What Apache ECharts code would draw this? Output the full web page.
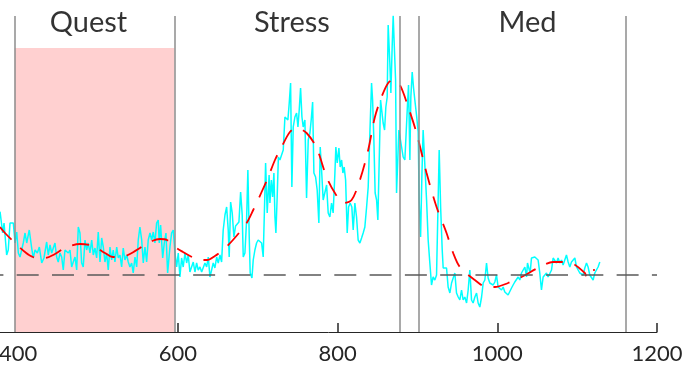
<!DOCTYPE html>
<html>
<head>
<meta charset="utf-8">
<script src="https://cdn.jsdelivr.net/npm/echarts@6/dist/echarts.min.js"></script>
<style>
html,body{margin:0;padding:0;background:#fff;}
#chart{width:687px;height:372px;}
</style>
</head>
<body>
<div id="chart"></div>
<script>
// ---- data ----
var signalX = [377.2,380.5,382.2,385.5,387.5,389.7,391.8,393.8,396.0,398.1,400.1,402.2,404.3,406.3,408.5,410.6,413.8,416.8,418.8,421.0,423.9,426.4,429.4,432.2,435.6,437.6,439.8,441.9,443.9,446.0,448.1,450.1,452.3,454.4,456.4,458.5,460.7,462.7,464.8,466.9,468.9,471.1,473.2,475.2,477.3,479.4,481.4,483.6,485.7,487.7,489.8,492.0,494.0,496.1,498.2,500.2,502.4,504.5,506.5,508.6,510.7,512.7,514.9,517.0,519.0,521.1,523.3,525.3,527.4,529.5,531.5,533.6,535.8,537.8,539.9,542.0,544.0,546.2,548.3,550.3,552.4,554.6,556.6,558.7,560.8,562.8,565.0,567.1,569.1,571.2,573.3,575.3,576.6,578.3,580.9,582.9,585.0,587.1,590.0,592.1,594.1,596.3,598.4,600.4,602.5,604.6,606.6,608.8,610.9,612.9,615.0,617.2,619.2,621.3,623.4,625.4,627.6,629.7,631.7,633.8,636.0,638.0,640.1,642.2,644.2,646.3,648.5,650.5,652.6,654.7,656.7,658.9,661.0,663.0,664.2,666.0,668.0,670.1,672.2,674.2,676.4,678.5,680.5,681.8,683.9,686.0,687.6,689.3,690.5,692.7,694.3,696.4,698.5,700.5,702.7,704.8,706.8,708.9,709.8,711.8,714.2,715.2,717.0,718.6,720.2,721.5,722.7,724.3,725.8,727.7,729.8,731.9,734.0,736.1,737.7,739.4,741.1,742.7,744.4,746.5,748.6,750.3,751.9,753.6,755.3,756.9,759.0,761.1,763.2,765.3,766.9,768.7,770.3,772.4,774.4,776.5,778.2,779.9,781.9,784.1,786.2,788.2,790.3,792.4,794.4,796.6,797.8,799.5,801.6,803.2,805.0,806.6,808.2,810.0,812.0,813.7,815.7,817.8,819.5,821.6,823.7,825.7,827.9,830.0,832.0,834.1,836.3,838.3,840.4,842.5,843.8,845.4,847.0,848.8,850.4,852.0,853.8,855.4,857.0,858.8,860.4,862.1,863.3,865.4,866.7,868.3,869.6,871.3,872.6,873.8,875.5,876.7,878.3,880.1,882.1,884.2,886.3,887.6,888.8,890.5,891.7,893.4,895.1,896.7,898.8,900.9,902.1,903.9,905.5,907.1,909.2,911.4,913.4,915.5,917.6,919.6,921.8,923.9,925.9,927.2,929.0,931.0,932.2,934.3,936.4,938.4,940.6,942.7,944.7,946.8,948.9,951.0,953.1,955.2,957.2,959.3,961.5,963.5,965.6,967.7,969.7,971.9,974.0,976.0,978.1,980.3,982.3,984.4,986.5,988.5,990.6,992.8,994.8,996.9,999.0,1001.0,1003.2,1005.3,1007.3,1009.4,1011.5,1013.5,1015.7,1017.8,1019.8,1021.9,1024.1,1026.1,1028.2,1030.3,1032.3,1034.5,1036.6,1037.8,1039.5,1041.1,1042.8,1044.9,1047.0,1049.1,1051.1,1053.2,1055.3,1057.4,1059.5,1061.6,1063.6,1065.7,1067.9,1069.9,1072.0,1074.1,1076.1,1078.3,1080.4,1082.4,1084.5,1086.6,1088.7,1090.8,1092.9,1094.9,1097.1,1099.2,1101.2,1103.3,1105.4,1107.5,1109.6,1111.7,1113.7,1115.8,1118.0,1120.0,1122.1,1124.2,1126.2,1128.4];
var signalY = [6.30,4.17,5.17,1.97,2.47,5.17,5.27,5.17,3.17,4.27,2.17,1.77,1.67,3.17,4.17,3.17,4.47,2.67,1.67,2.47,2.17,2.77,1.17,1.67,3.27,1.97,2.97,2.17,2.67,3.17,1.77,1.27,2.17,1.77,0.47,2.47,2.67,2.17,2.47,0.77,1.27,1.77,0.47,4.77,4.17,1.17,0.77,3.47,2.47,3.17,2.17,3.47,1.97,2.67,1.67,4.27,1.27,3.67,2.77,1.27,2.17,0.47,2.77,1.47,2.47,1.27,2.77,1.67,1.97,0.77,2.67,1.47,1.97,1.27,0.77,1.17,0.17,1.77,0.77,3.47,4.77,3.47,1.17,2.77,1.27,3.47,4.17,3.47,4.27,3.17,5.17,5.47,3.17,4.97,1.67,3.17,4.17,0.17,2.77,4.17,4.47,2.17,0.77,2.17,-0.23,1.67,0.77,2.17,1.17,1.97,0.27,0.47,1.27,0.27,1.17,0.47,0.77,0.27,0.17,1.17,0.77,1.77,-0.23,0.47,1.17,0.67,1.77,1.17,1.97,1.27,4.47,5.97,6.77,4.47,1.77,7.27,6.17,3.77,4.87,4.67,5.27,8.27,5.97,1.77,2.17,5.47,10.47,3.77,0.17,-0.33,1.47,2.47,3.17,3.47,3.27,3.17,1.77,8.17,11.17,6.17,9.97,7.17,9.47,7.77,10.17,5.77,4.17,7.77,11.77,11.47,11.97,12.47,15.77,15.97,15.47,17.17,19.17,8.77,14.77,15.77,16.17,14.77,16.47,18.67,15.77,14.77,15.47,7.67,13.47,14.17,15.47,17.27,10.17,9.77,8.47,5.17,12.77,10.47,7.47,7.27,8.97,6.17,5.77,7.17,6.17,10.17,12.77,11.17,12.67,10.77,11.47,10.17,10.77,9.47,4.17,6.77,7.17,6.77,4.47,7.17,5.77,3.47,3.17,3.67,4.17,4.77,6.77,8.77,14.17,19.17,17.47,13.47,8.17,7.47,5.47,5.47,17.47,17.27,15.17,14.47,16.77,17.77,24.97,21.17,18.17,22.77,25.9,22.17,19.47,8.17,8.17,14.47,14.27,12.77,11.77,11.47,11.27,17.17,18.97,11.47,17.77,20.27,18.67,17.47,15.97,14.27,7.47,3.77,9.77,14.47,14.67,7.47,3.47,1.17,-1.03,-0.23,-0.53,-0.03,7.47,12.47,6.77,2.47,0.67,0.47,0.67,-1.23,-1.83,-0.83,-1.03,0.17,-1.83,-2.23,-2.53,-1.53,-2.53,-2.23,-2.83,-1.53,0.47,-2.53,-2.83,-2.23,-1.83,-2.83,-3.23,-2.23,-0.83,-0.53,1.17,-0.33,-0.83,-0.83,-1.03,-0.73,-0.03,-1.23,-1.33,-1.53,-1.23,-1.73,-1.73,-2.03,-1.83,-1.33,-1.03,-0.73,-0.83,-0.23,-0.53,0.17,-0.03,0.77,-0.23,1.17,1.27,0.17,1.67,1.47,1.77,1.97,1.47,0.17,-1.53,-0.23,-0.33,0.17,-0.23,-0.03,0.47,1.67,1.77,1.17,1.67,1.17,1.47,0.97,1.47,1.97,1.27,0.77,1.27,1.17,1.67,0.77,0.67,0.17,0.27,-0.03,0.67,1.17,0.77,-0.03,0.17,-0.53,0.17,0.27,0.77,1.27];

var fitX = [377.2,383.4,396.0,408.5,418.5,433.5,446.0,458.5,477.3,489.8,498.6,508.6,518.6,529.9,539.9,556.2,567.5,577.5,586.2,596.3,606.3,617.5,627.6,636.3,646.3,656.4,668.9,686.0,694.3,704.8,713.1,721.5,729.8,740.2,748.6,761.1,773.7,786.2,796.6,807.0,817.5,827.9,838.3,846.7,855.0,863.3,869.6,878.0,888.4,898.8,911.4,923.9,936.4,944.7,953.1,971.9,986.5,996.9,1013.5,1030.3,1053.2,1069.9,1080.4,1092.9,1109.6,1111.7,1115.8,1122.1];
var fitY = [4.77,4.17,3.17,2.27,1.77,1.67,2.07,2.67,3.07,2.97,2.67,2.17,1.77,1.77,2.07,2.87,3.37,3.57,3.47,2.77,2.27,1.77,1.47,1.47,1.87,2.47,3.47,5.17,6.47,8.27,9.77,11.47,12.77,14.27,14.67,14.17,12.67,9.77,8.17,7.17,7.47,9.47,12.47,15.77,17.77,19.17,19.47,18.97,16.77,14.17,10.17,6.77,4.17,2.17,0.77,-0.53,-1.23,-1.23,-0.83,-0.23,0.77,1.27,1.27,1.17,0.17,-0.23,0.47,0.47];

var phaseNames = ['Quest','Stress','Med'];
var phaseLabelX = [488, 742.7, 1037.8];
var phaseLabelY = 25.2;
var eventLines = [395.6, 595.6, 878, 902, 1160.5];
var questStart = 395.6, questEnd = 595.6, questTop = 22.67;
var baselineY = 0;
var xTicks = [400, 600, 800, 1000, 1200];
var xMin = 377.15, xMax = 1200;
var yMin = -5.73, yMax = 25.87;

// ---- build ----
function zip(xs, ys){ var out=[]; for(var i=0;i<xs.length;i++) out.push([xs[i], ys[i]]); return out; }

var chart = echarts.init(document.getElementById('chart'), null, {renderer:'canvas'});
var option = {
  animation: false,
  backgroundColor: '#ffffff',
  grid: { left: 0, right: 30, top: 16, bottom: 40, containLabel: false, outerBoundsMode: 'none' },
  xAxis: {
    type: 'value', min: xMin, max: xMax,
    axisLine: { show: true, onZero: false, lineStyle: { color: '#262626', width: 1 } },
    axisTick: { show: true, inside: true, length: 9, customValues: xTicks, lineStyle: { color: '#262626', width: 1.5 } },
    axisLabel: { show: true, margin: 11, color: '#262626', fontSize: 22, fontFamily: 'Lato',
      customValues: xTicks, showMinLabel: true, showMaxLabel: true, hideOverlap: false,
      formatter: function(v){ return String(Math.round(v)); } },
    splitLine: { show: false }
  },
  yAxis: {
    type: 'value', min: yMin, max: yMax, show: false, splitLine: { show: false }
  },
  series: [
    {
      type: 'line', data: [], z: 1, silent: true,
      markArea: {
        silent: true,
        itemStyle: { color: '#ffd0d0' },
        data: [[{ xAxis: questStart, yAxis: yMin }, { xAxis: questEnd, yAxis: questTop }]]
      }
    },
    {
      type: 'line', data: zip(signalX, signalY), z: 2,
      showSymbol: false, symbol: 'none',
      lineStyle: { color: '#00ffff', width: 1.5 }
    },
    {
      type: 'line', data: zip(fitX, fitY), z: 3,
      showSymbol: false, symbol: 'none', smooth: 0.3,
      lineStyle: { color: '#ff0000', width: 1.8, type: [17, 12] }
    },
    {
      type: 'line', data: [], z: 4, silent: true,
      markLine: {
        silent: true, symbol: ['none','none'], label: { show: false },
        data: eventLines.map(function(v){ return { xAxis: v, lineStyle: { color: '#8c8c8c', width: 1.5, type: 'solid' } }; })
          .concat([{ yAxis: baselineY, lineStyle: { color: '#5a5a5a', width: 1.5, type: [22, 13.29], dashOffset: 18.6 } }])
      }
    },
    {
      type: 'scatter', z: 5, symbolSize: 0, silent: true,
      data: phaseNames.map(function(n, i){ return { name: n, value: [phaseLabelX[i], phaseLabelY] }; }),
      label: {
        show: true, position: 'inside', formatter: '{b}',
        color: '#000000', fontSize: 29, fontFamily: 'Lato'
      }
    }
  ]
};
chart.setOption(option);
</script>
</body>
</html>
